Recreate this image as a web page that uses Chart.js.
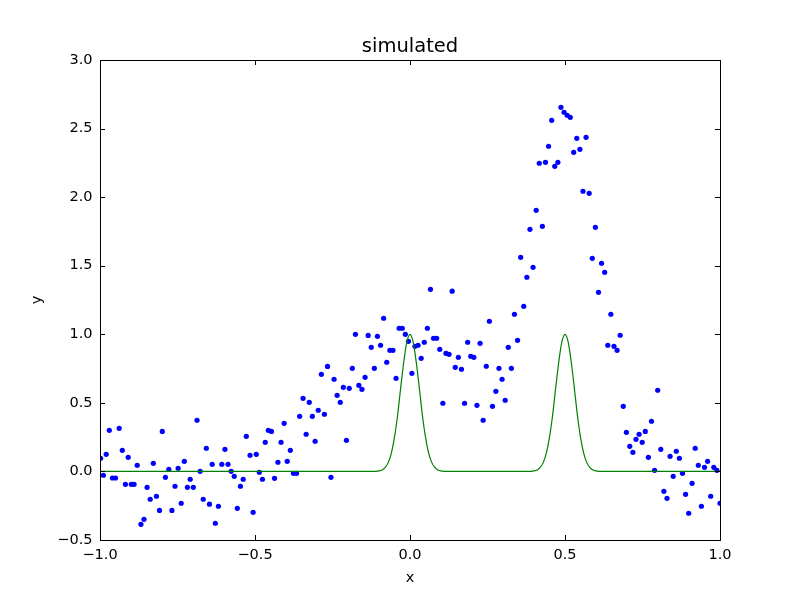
<!DOCTYPE html>
<html>
<head>
<meta charset="utf-8">
<script src="https://cdn.jsdelivr.net/npm/chart.js@4/dist/chart.umd.min.js"></script>
<style>
  body { margin: 0; background: #ffffff; }
  canvas { display: block; }
</style>
</head>
<body>
<canvas id="myChart" width="800" height="600"></canvas>
<script>
// ---- data ----
const dotX = [
  -0.998, -0.989, -0.980, -0.970, -0.960, -0.950, -0.938, -0.928, -0.918, -0.909,
  -0.899, -0.890, -0.880, -0.868, -0.858, -0.848, -0.838, -0.828, -0.818, -0.808,
  -0.799, -0.789, -0.778, -0.768, -0.758, -0.748, -0.738, -0.728, -0.718, -0.709,
  -0.699, -0.687, -0.677, -0.667, -0.657, -0.647, -0.638, -0.628, -0.618, -0.607,
  -0.597, -0.587, -0.577, -0.567, -0.557, -0.547, -0.538, -0.528, -0.516, -0.506,
  -0.496, -0.486, -0.476, -0.467, -0.457, -0.447, -0.437, -0.426, -0.416, -0.406,
  -0.396, -0.386, -0.376, -0.366, -0.356, -0.345, -0.335, -0.325, -0.315, -0.306,
  -0.296, -0.286, -0.276, -0.266, -0.255, -0.245, -0.235, -0.225, -0.215, -0.205,
  -0.196, -0.186, -0.176, -0.165, -0.155, -0.145, -0.135, -0.125, -0.115, -0.105,
  -0.095, -0.085, -0.075, -0.065, -0.055, -0.045, -0.035, -0.025, -0.015, -0.005,
  0.006, 0.016, 0.026, 0.036, 0.046, 0.056, 0.066, 0.076, 0.086, 0.096,
  0.106, 0.116, 0.126, 0.136, 0.146, 0.156, 0.166, 0.176, 0.186, 0.196,
  0.206, 0.216, 0.226, 0.236, 0.246, 0.256, 0.266, 0.277, 0.287, 0.297,
  0.307, 0.317, 0.327, 0.337, 0.347, 0.357, 0.367, 0.377, 0.387, 0.397,
  0.407, 0.417, 0.427, 0.437, 0.447, 0.457, 0.467, 0.477, 0.487, 0.497,
  0.507, 0.517, 0.528, 0.538, 0.548, 0.558, 0.568, 0.578, 0.588, 0.598,
  0.608, 0.618, 0.628, 0.638, 0.648, 0.658, 0.668, 0.678, 0.688, 0.698,
  0.709, 0.719, 0.729, 0.739, 0.749, 0.759, 0.769, 0.779, 0.789, 0.799,
  0.809, 0.819, 0.829, 0.839, 0.849, 0.859, 0.869, 0.879, 0.889, 0.899,
  0.910, 0.920, 0.930, 0.940, 0.950, 0.960, 0.970, 0.980, 0.990, 1.000
];
const dotY = [
  0.096, -0.028, 0.125, 0.300, -0.048, -0.048, 0.314, 0.154, -0.094, 0.103,
  -0.094, -0.094, 0.045, -0.386, -0.349, -0.116, -0.203, 0.059, -0.181, -0.284,
  0.292, -0.043, 0.016, -0.284, -0.108, 0.023, -0.232, 0.074, -0.116, -0.057,
  -0.116, 0.373, 0.001, -0.203, 0.169, -0.239, 0.052, -0.378, -0.254, 0.052,
  0.161, 0.052, 0.001, -0.036, -0.269, -0.108, -0.057, 0.256, 0.118, -0.298,
  0.125, -0.006, -0.057, 0.212, 0.300, 0.292, -0.050, 0.067, 0.212, 0.351,
  0.074, 0.154, -0.014, -0.014, 0.402, 0.533, 0.271, 0.504, 0.402, 0.220,
  0.446, 0.708, 0.417, 0.766, -0.043, 0.672, 0.555, 0.504, 0.613, 0.227,
  0.606, 0.752, 1.000, 0.628, 0.599, 0.686, 0.992, 0.905, 0.752, 0.985,
  0.920, 1.117, 0.796, 0.883, 0.883, 0.679, 1.044, 1.044, 1.000, 0.949,
  0.715, 0.912, 0.920, 0.825, 0.942, 1.044, 1.328, 0.971, 0.971, 0.890,
  0.497, 0.861, 0.854, 1.314, 0.759, 0.832, 0.745, 0.497, 0.942, 0.840,
  0.832, 0.482, 0.934, 0.373, 0.767, 1.095, 0.475, 0.584, 0.752, 0.672,
  0.519, 0.905, 0.752, 1.146, 0.956, 1.561, 1.204, 1.416, 1.765, 1.488,
  1.904, 2.247, 1.787, 2.254, 2.371, 2.560, 2.225, 2.254, 2.655, 2.619,
  2.597, 2.582, 2.327, 2.429, 2.349, 2.043, 2.436, 2.028, 1.554, 1.780,
  1.306, 1.518, 1.452, 0.920, 1.146, 0.912, 0.883, 0.993, 0.475, 0.285,
  0.183, 0.139, 0.234, 0.271, 0.212, 0.292, 0.103, 0.366, 0.008, 0.592,
  0.161, -0.145, -0.196, 0.110, -0.036, 0.147, 0.096, -0.014, -0.167, -0.305,
  -0.087, 0.169, 0.045, -0.254, 0.030, 0.074, -0.181, 0.030, 0.008, -0.232
];

// green curve, two bumps
const lineX = [
  -1.0, -0.12, -0.10, -0.09, -0.08, -0.07, -0.06, -0.05, -0.04, -0.03, -0.02, -0.01,
  0.0, 0.01, 0.02, 0.03, 0.04, 0.05, 0.06, 0.07, 0.08, 0.09, 0.10, 0.12,
  0.38, 0.40, 0.41, 0.42, 0.43, 0.44, 0.45, 0.46, 0.47, 0.48, 0.49,
  0.50, 0.51, 0.52, 0.53, 0.54, 0.55, 0.56, 0.57, 0.58, 0.59, 0.60, 0.62, 1.0
];
const lineY = [
  0, 0, 0.004, 0.011, 0.029, 0.066, 0.135, 0.25, 0.41, 0.61, 0.80, 0.946,
  1.0, 0.946, 0.80, 0.61, 0.41, 0.25, 0.135, 0.066, 0.029, 0.011, 0.004, 0,
  0, 0.004, 0.011, 0.029, 0.066, 0.135, 0.25, 0.41, 0.61, 0.80, 0.946,
  1.0, 0.946, 0.80, 0.61, 0.41, 0.25, 0.135, 0.066, 0.029, 0.011, 0.004, 0, 0
];

const xTickLabels = ["\u22121.0", "\u22120.5", "0.0", "0.5", "1.0"];
const yTickLabels = ["\u22120.5", "0.0", "0.5", "1.0", "1.5", "2.0", "2.5", "3.0"];

const font = "DejaVu Sans";

// frame + inward ticks on all four sides (matplotlib classic look)
const frameTicks = {
  id: "frameTicks",
  afterDatasetsDraw(chart) {
    const ctx = chart.ctx;
    const a = chart.chartArea;
    const len = 5;
    ctx.save();
    ctx.strokeStyle = "#000000";
    ctx.lineWidth = 1;
    ctx.beginPath();
    chart.scales.x.ticks.forEach((t) => {
      const px = Math.round(chart.scales.x.getPixelForValue(t.value)) + 0.5;
      ctx.moveTo(px, a.bottom);
      ctx.lineTo(px, a.bottom - len);
      ctx.moveTo(px, a.top);
      ctx.lineTo(px, a.top + len);
    });
    chart.scales.y.ticks.forEach((t) => {
      const py = Math.round(chart.scales.y.getPixelForValue(t.value)) + 0.5;
      ctx.moveTo(a.left, py);
      ctx.lineTo(a.left + len, py);
      ctx.moveTo(a.right, py);
      ctx.lineTo(a.right - len, py);
    });
    ctx.stroke();
    ctx.strokeRect(a.left + 0.5, a.top + 0.5, a.right - a.left, a.bottom - a.top);
    ctx.restore();
  },
};

const ctx = document.getElementById("myChart").getContext("2d");

const myChart = new Chart(ctx, {
  type: "scatter",
  data: {
    datasets: [
      {
        data: lineX.map((x, i) => ({ x: x, y: lineY[i] })),
        showLine: true,
        borderColor: "#008000",
        borderWidth: 1.2,
        pointRadius: 0,
        cubicInterpolationMode: "monotone",
      },
      {
        data: dotX.map((x, i) => ({ x: x, y: dotY[i] })),
        backgroundColor: "#0000ff",
        borderWidth: 0,
        pointRadius: 2.6,
      },
    ],
  },
  options: {
    responsive: false,
    animation: false,
    devicePixelRatio: 1,
    layout: { padding: { top: 0, right: 80, bottom: 0, left: 0 } },
    plugins: {
      legend: { display: false },
      tooltip: { enabled: false },
    },
    scales: {
      x: {
        type: "linear",
        min: -1,
        max: 1,
        grid: { display: false, drawTicks: false },
        border: { display: false },
        ticks: {
          stepSize: 0.5,
          padding: 7,
          color: "#000000",
          maxRotation: 0,
          font: { family: font, size: 14.5 },
          callback: (v, i) => xTickLabels[i],
        },
        title: {
          display: true,
          text: "x",
          color: "#000000",
          font: { family: font, size: 14.5 },
          padding: { top: 0, bottom: 13 },
        },
        afterFit: (scale) => {
          scale.height = 60;
        },
      },
      // top axis only carries the chart title, centred over the plot area
      xTop: {
        type: "linear",
        axis: "x",
        position: "top",
        min: -1,
        max: 1,
        grid: { display: false, drawTicks: false },
        border: { display: false },
        ticks: { display: false },
        title: {
          display: true,
          text: "simulated",
          color: "#000000",
          font: { family: font, size: 19.5 },
          padding: { top: 35, bottom: 0 },
        },
        afterFit: (scale) => {
          scale.height = 60;
        },
      },
      y: {
        type: "linear",
        min: -0.5,
        max: 3,
        grid: { display: false, drawTicks: false },
        border: { display: false },
        ticks: {
          stepSize: 0.5,
          padding: 7.5,
          color: "#000000",
          font: { family: font, size: 14.5 },
          callback: (v, i) => yTickLabels[i],
        },
        title: {
          display: true,
          text: "y",
          color: "#000000",
          font: { family: font, size: 14.5 },
          padding: { top: 29, bottom: 0 },
        },
        afterFit: (scale) => {
          scale.width = 100;
        },
      },
    },
  },
  plugins: [frameTicks],
});
</script>
</body>
</html>
